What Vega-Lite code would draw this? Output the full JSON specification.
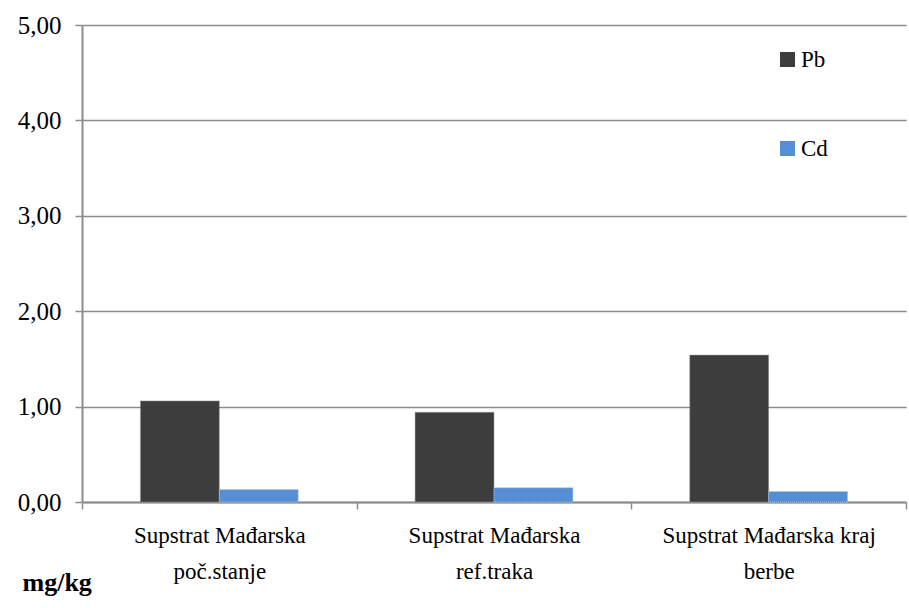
{
  "$schema": "https://vega.github.io/schema/vega-lite/v6.json",
  "autosize": {"type": "none"},
  "padding": {"left": 82, "top": 25, "right": 3, "bottom": 106},
  "width": 824,
  "height": 477,
  "background": "white",
  "data": {
    "values": [
      {"kategorija": "Supstrat Mađarska poč.stanje", "element": "Pb", "vrijednost": 1.06},
      {"kategorija": "Supstrat Mađarska poč.stanje", "element": "Cd", "vrijednost": 0.13},
      {"kategorija": "Supstrat Mađarska ref.traka", "element": "Pb", "vrijednost": 0.94},
      {"kategorija": "Supstrat Mađarska ref.traka", "element": "Cd", "vrijednost": 0.15},
      {"kategorija": "Supstrat Mađarska kraj berbe", "element": "Pb", "vrijednost": 1.54},
      {"kategorija": "Supstrat Mađarska kraj berbe", "element": "Cd", "vrijednost": 0.11}
    ]
  },
  "mark": {"type": "bar", "strokeWidth": 1, "strokeDash": [1, 1]},
  "encoding": {
    "x": {
      "field": "kategorija",
      "type": "nominal",
      "sort": null,
      "scale": {"paddingInner": 0, "paddingOuter": 0},
      "axis": {
        "title": null,
        "labelAngle": 0,
        "tickBand": "extent",
        "tickSize": 7,
        "tickColor": "#8c8c8c",
        "tickWidth": 1.5,
        "domainColor": "#8c8c8c",
        "domainWidth": 2,
        "labelFont": "Liberation Serif, Times New Roman, Times, serif",
        "labelFontSize": 23,
        "labelColor": "black",
        "labelPadding": 15,
        "labelLineHeight": 36,
        "labelBaseline": "top",
        "labelLimit": 0,
        "labelOverlap": false,
        "labelExpr": "datum.extra ? '' : (datum.label == 'Supstrat Mađarska kraj berbe' ? ['Supstrat Mađarska kraj', 'berbe'] : ['Supstrat Mađarska', replace(datum.label, 'Supstrat Mađarska ', '')])",
        "grid": false
      }
    },
    "xOffset": {
      "field": "element",
      "type": "nominal",
      "sort": ["Pb", "Cd"],
      "scale": {"paddingInner": 0, "paddingOuter": 0.74}
    },
    "y": {
      "field": "vrijednost",
      "type": "quantitative",
      "scale": {"domain": [0, 5], "nice": false},
      "axis": {
        "values": [0, 1, 2, 3, 4, 5],
        "labelExpr": "replace(format(datum.value, '.2f'), '.', ',')",
        "labelFont": "Liberation Serif, Times New Roman, Times, serif",
        "labelFontSize": 25,
        "labelColor": "black",
        "labelPadding": 14,
        "tickSize": 7,
        "tickColor": "#8c8c8c",
        "tickWidth": 1.5,
        "domainColor": "#8c8c8c",
        "domainWidth": 2,
        "gridColor": "#8c8c8c",
        "gridWidth": 1.5,
        "title": "mg/kg",
        "titleAngle": 0,
        "titleFont": "Liberation Serif, Times New Roman, Times, serif",
        "titleFontSize": 26,
        "titleFontWeight": "bold",
        "titleColor": "black",
        "titleX": -60,
        "titleY": 557,
        "titleAlign": "left",
        "titleBaseline": "middle"
      }
    },
    "color": {
      "field": "element",
      "type": "nominal",
      "scale": {"domain": ["Pb", "Cd"], "range": ["#3d3d3d", "#558ed5"]},
      "legend": {
        "title": null,
        "orient": "none",
        "legendX": 694,
        "legendY": 23,
        "symbolType": "square",
        "symbolSize": 225,
        "symbolStrokeWidth": 0,
        "labelFont": "Liberation Serif, Times New Roman, Times, serif",
        "labelFontSize": 23,
        "labelColor": "black",
        "labelOffset": 2,
        "rowPadding": 65
      }
    },
    "stroke": {
      "field": "element",
      "type": "nominal",
      "scale": {"domain": ["Pb", "Cd"], "range": ["#999999", "#aac8ee"]},
      "legend": null
    }
  },
  "config": {
    "view": {"stroke": null},
    "font": "Liberation Serif, Times New Roman, Times, serif"
  }
}
